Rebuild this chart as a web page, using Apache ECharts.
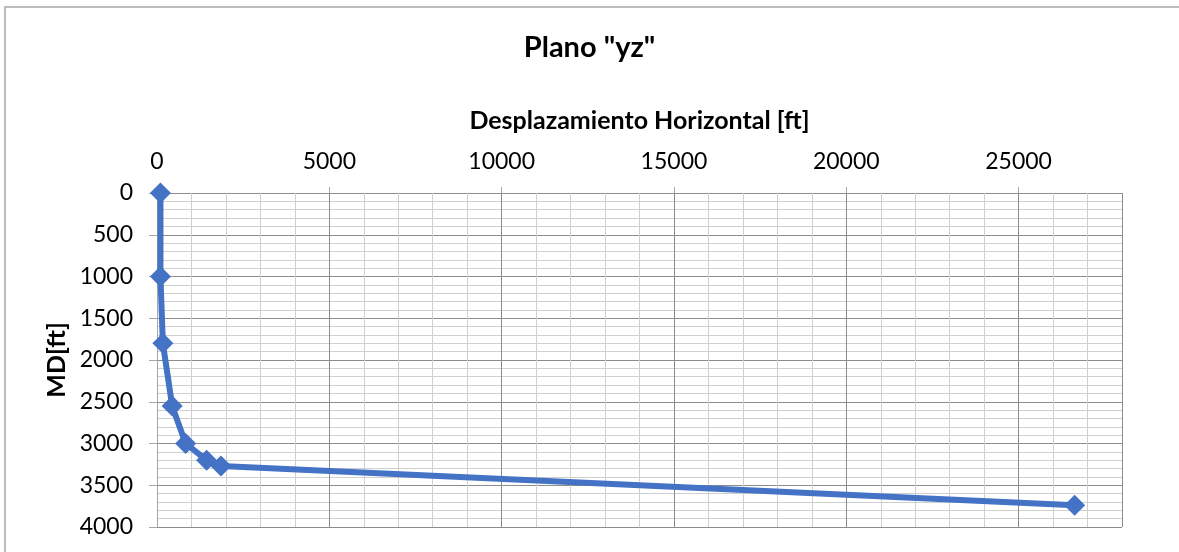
<!DOCTYPE html>
<html>
<head>
<meta charset="utf-8">
<script src="https://cdn.jsdelivr.net/npm/echarts@6/dist/echarts.min.js"></script>
<style>
html,body{margin:0;padding:0;background:#fff;}
#main{width:1179px;height:552px;}
</style>
</head>
<body>
<div id="main"></div>
<script>
// datos de la trayectoria (desplazamiento horizontal vs MD)
const desplazamiento = [100, 100, 170, 440, 830, 1440, 1856, 26625]
const md = [0, 1000, 1800, 2550, 3000, 3200, 3270, 3740]
const titulo = 'Plano "yz"'
const nombreX = 'Desplazamiento Horizontal [ft]'
const nombreY = 'MD[ft]'

const fuente = "Lato, 'Liberation Sans', sans-serif"
const puntos = desplazamiento.map((x, i) => [x, md[i]])
// etiquetas sin separador de miles
const sinMiles = v => String(v)

const myEcharts = echarts.init(document.getElementById('main'))
const option = {
    animation: false,
    title: {
        text: titulo,
        left: 'center',
        top: 28,
        textStyle: {fontFamily: fuente, fontSize: 29, fontWeight: 'bold', color: '#000'}
    },
    // borde del area del grafico
    graphic: [{
        type: 'rect',
        shape: {x: 5, y: 7, width: 1300, height: 700},
        style: {fill: 'none', stroke: '#a6a6a6', lineWidth: 1.5},
        silent: true
    }],
    grid: {left: 157, right: 57, top: 193, bottom: 25},
    xAxis: [
        {
            // solo lineas secundarias cada 1000
            type: 'value', position: 'top', min: 0, max: 28000, interval: 1000,
            axisLine: {show: false}, axisTick: {show: false}, axisLabel: {show: false},
            splitLine: {show: true, lineStyle: {color: '#cfcfcf', width: 1}}
        },
        {
            type: 'value', position: 'top', min: 0, max: 28000, interval: 5000,
            name: nombreX, nameLocation: 'middle', nameGap: 60,
            nameTextStyle: {fontFamily: fuente, fontSize: 25, fontWeight: 'bold', color: '#000'},
            axisLine: {show: false},
            axisTick: {show: true, length: 6, lineStyle: {color: '#a6a6a6'}},
            axisLabel: {fontFamily: fuente, fontSize: 23, color: '#000', margin: 20, showMaxLabel: false, formatter: sinMiles},
            splitLine: {show: true, lineStyle: {color: '#8c8c8c', width: 1}}
        }
    ],
    yAxis: {
        type: 'value', inverse: true, min: 0, max: 4000, interval: 500,
        name: nombreY, nameLocation: 'middle', nameGap: 88, nameMoveOverlap: false,
        nameTextStyle: {fontFamily: fuente, fontSize: 25, fontWeight: 'bold', color: '#000'},
        axisLine: {show: true, lineStyle: {color: '#a6a6a6', width: 1}},
        axisTick: {show: true, length: 8, lineStyle: {color: '#a6a6a6'}},
        axisLabel: {fontFamily: fuente, fontSize: 23, color: '#000', margin: 24, formatter: sinMiles},
        splitLine: {show: true, lineStyle: {color: '#8c8c8c', width: 1}},
        minorTick: {show: false, splitNumber: 5},
        minorSplitLine: {show: true, lineStyle: {color: '#cfcfcf', width: 1}}
    },
    series: [{
        type: 'line',
        xAxisIndex: 1,
        data: puntos,
        symbol: 'diamond',
        symbolSize: 21,
        lineStyle: {color: '#4472C4', width: 6},
        itemStyle: {color: '#4472C4'}
    }]
}
myEcharts.setOption(option)
</script>
</body>
</html>
